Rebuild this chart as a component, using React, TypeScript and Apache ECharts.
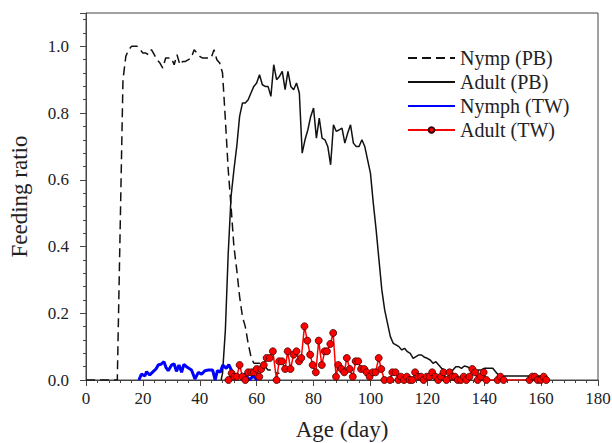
import React, { useEffect, useRef } from "react";
import * as echarts from "echarts";

// Nymp (PB) — dashed black
const nympPBDays = [0, 5, 10, 11, 12, 13, 14, 15, 16, 17, 18, 19, 20, 21, 22, 23, 24, 25, 26, 27, 28, 29, 30, 31, 32, 33, 34, 35, 36, 37, 38, 39, 40, 41, 42, 43, 44, 45, 46, 47, 48, 49, 50, 51, 52, 53, 54, 55, 56, 57, 58, 59, 60, 61, 62, 63, 64, 65, 66, 67, 68];
const nympPBValues = [0, 0, 0, 0, 0.45, 0.9, 0.97, 0.99, 1.0, 1.0, 1.0, 0.99, 0.98, 0.98, 0.975, 0.99, 0.975, 0.96, 0.95, 0.935, 0.965, 0.965, 0.965, 0.945, 0.975, 0.945, 0.955, 0.955, 0.96, 0.965, 0.99, 0.98, 0.97, 0.965, 0.965, 0.965, 0.965, 0.99, 0.96, 0.95, 0.92, 0.78, 0.63, 0.52, 0.4, 0.33, 0.25, 0.19, 0.16, 0.11, 0.07, 0.05, 0.05, 0.05, 0.04, 0.04, 0.03, 0.03, 0.03, 0.02, 0.02];

// Adult (PB) — solid black
const adultPBDays = [47.5, 48, 49, 50, 51, 52, 53, 54, 55, 56, 57, 58, 59, 60, 61, 62, 63, 64, 65, 66, 67, 68, 69, 70, 71, 72, 73, 74, 75, 76, 77, 78, 79, 80, 81, 82, 83, 84, 85, 86, 87, 88, 89, 90, 91, 92, 93, 94, 95, 96, 97, 98, 99, 100, 101, 102, 103, 104, 105, 106, 107, 108, 109, 110, 111, 112, 113, 114, 115, 116, 117, 118, 119, 120, 121, 122, 123, 124, 125, 126, 127, 128, 129, 130, 131, 132, 133, 134, 135, 136, 137, 138, 139, 140, 141, 142, 143, 144, 145, 146, 150, 155, 160, 162];
const adultPBValues = [0, 0.02, 0.15, 0.38, 0.55, 0.63, 0.7, 0.79, 0.83, 0.83, 0.84, 0.86, 0.88, 0.89, 0.915, 0.885, 0.88, 0.88, 0.85, 0.945, 0.9, 0.91, 0.925, 0.87, 0.925, 0.88, 0.87, 0.89, 0.86, 0.68, 0.72, 0.75, 0.79, 0.815, 0.725, 0.785, 0.725, 0.72, 0.7, 0.645, 0.765, 0.745, 0.75, 0.755, 0.71, 0.74, 0.765, 0.71, 0.7, 0.7, 0.72, 0.7, 0.66, 0.62, 0.53, 0.45, 0.36, 0.27, 0.21, 0.17, 0.13, 0.11, 0.105, 0.1, 0.09, 0.095, 0.085, 0.08, 0.065, 0.07, 0.075, 0.075, 0.068, 0.065, 0.06, 0.05, 0.055, 0.045, 0.035, 0.03, 0.025, 0.025, 0.03, 0.04, 0.04, 0.035, 0.042, 0.04, 0.035, 0.03, 0.025, 0.03, 0.03, 0.035, 0.035, 0.035, 0.035, 0.025, 0.015, 0.012, 0.012, 0.012, 0.012, 0.012];

// Nymph (TW) — blue
const nymphTWDays = [18.6, 19.5, 20.7, 21.3, 22.4, 23.6, 24.6, 25.4, 26.5, 27.4, 28.1, 28.9, 30.1, 31, 31.8, 32.7, 33.6, 34.4, 35.6, 37.1, 38.3, 39.5, 40.6, 41.8, 43, 44.5, 45.4, 46.2, 47.2, 48.1, 49.3, 50.2, 51.2, 52.6, 54.7, 56, 57.4, 58.8, 60.2];
const nymphTWValues = [0, 0.018, 0.012, 0.025, 0.015, 0.025, 0.033, 0.045, 0.048, 0.055, 0.038, 0.028, 0.045, 0.048, 0.026, 0.045, 0.023, 0.047, 0.038, 0.03, 0.003, 0.023, 0.017, 0.028, 0.03, 0.03, 0, 0.028, 0.023, 0.045, 0.035, 0.046, 0.028, 0.012, 0.01, 0.018, 0, 0.012, 0];

// Adult (TW) — red with markers
const adultTWDays = [50.1, 51.2, 52.2, 53, 54, 55, 56, 57, 58.1, 59, 60, 60.9, 61.6, 62.5, 63.5, 64.6, 65.7, 67, 67.9, 68.9, 70, 70.9, 71.9, 73, 74, 74.9, 75.7, 76.8, 77.8, 78.8, 79.7, 80.8, 81.8, 82.9, 83.9, 84.7, 85.9, 86.9, 87.9, 88.7, 89.8, 90.8, 91.7, 92.7, 93.8, 94.8, 95.7, 96.7, 97.8, 98.7, 99.7, 100.8, 101.8, 102.9, 103.8, 104.9, 106.9, 107.7, 108.8, 109.8, 110.7, 111.8, 112.8, 113.8, 114.7, 115.7, 116.8, 117.8, 118.7, 119.8, 120.8, 121.7, 122.8, 123.8, 124.8, 125.7, 126.7, 127.8, 128.8, 129.7, 130.7, 131.8, 132.8, 133.7, 134.8, 135.8, 136.8, 137.7, 138.8, 139.8, 140.8, 144.7, 145.7, 146.8, 155.9, 156.9, 157.8, 158.8, 159.9, 160.9, 161.8];
const adultTWValues = [0, 0.02, 0.01, 0.01, 0.045, 0.01, 0, 0.023, 0.023, 0.023, 0.033, 0.01, 0.033, 0.045, 0.066, 0.066, 0.086, 0, 0.056, 0.056, 0.033, 0.086, 0.033, 0.076, 0.086, 0.056, 0.066, 0.161, 0.118, 0.076, 0.045, 0.023, 0.118, 0.045, 0.086, 0.086, 0.108, 0.141, 0.01, 0.045, 0.033, 0.023, 0.066, 0.033, 0.01, 0.056, 0.056, 0.033, 0.033, 0.023, 0.01, 0.023, 0.023, 0.066, 0.033, 0, 0, 0.023, 0.023, 0, 0.01, 0, 0.01, 0, 0, 0.023, 0.01, 0.01, 0, 0.01, 0.01, 0.023, 0.01, 0, 0.01, 0.023, 0, 0.023, 0.01, 0.01, 0, 0, 0.01, 0, 0.01, 0.033, 0.023, 0, 0.01, 0.023, 0, 0, 0.01, 0, 0, 0.01, 0.01, 0, 0, 0.01, 0];

const xTicks = [0, 20, 40, 60, 80, 100, 120, 140, 160, 180];
const yTicks = [0.0, 0.2, 0.4, 0.6, 0.8, 1.0];

const zip = (xs: number[], ys: number[]) => xs.map((x, i) => [x, ys[i]]);

const FONT = "'Liberation Serif', 'Times New Roman', serif";
const AXIS_COLOR = "#444";
const TEXT_COLOR = "#222";

export default function App() {
  const ref = useRef<HTMLDivElement>(null);
  useEffect(() => {
    if (!ref.current) return;
    const chart = echarts.init(ref.current, undefined, { renderer: "svg" });
    const hidden = { opacity: 0 };
    chart.setOption({
      animation: false,
      backgroundColor: "#fff",
      grid: {
        left: 86,
        right: 14,
        top: 13,
        bottom: 63,
        show: true,
        borderColor: AXIS_COLOR,
        borderWidth: 1,
        backgroundColor: "transparent",
        outerBoundsMode: "none",
        containLabel: false,
      },
      legend: {
        orient: "vertical",
        left: 402,
        top: 43,
        itemWidth: 47,
        itemHeight: 7,
        itemGap: 4,
        textStyle: { fontFamily: FONT, fontSize: 20, color: TEXT_COLOR },
        data: [
          { name: "Nymp (PB)", itemStyle: hidden },
          { name: "Adult (PB)", itemStyle: hidden },
          { name: "Nymph (TW)", itemStyle: hidden },
          { name: "Adult (TW)" },
        ],
      },
      xAxis: {
        type: "value",
        min: xTicks[0],
        max: xTicks[xTicks.length - 1],
        interval: 20,
        name: "Age (day)",
        nameLocation: "middle",
        nameGap: 38,
        nameTextStyle: { fontFamily: FONT, fontSize: 23, color: TEXT_COLOR },
        axisLine: { show: true, lineStyle: { color: AXIS_COLOR, width: 1 } },
        axisTick: { show: true, length: 6, lineStyle: { color: AXIS_COLOR } },
        minorTick: { show: true, splitNumber: 5, length: 3, lineStyle: { color: AXIS_COLOR } },
        axisLabel: { fontFamily: FONT, fontSize: 17, color: TEXT_COLOR, margin: 10 },
        splitLine: { show: false },
      },
      yAxis: {
        type: "value",
        min: 0,
        max: 1.1,
        interval: 0.2,
        name: "Feeding ratio",
        nameLocation: "middle",
        nameGap: 55,
        nameTextStyle: { fontFamily: FONT, fontSize: 23, color: TEXT_COLOR },
        axisLine: { show: true, lineStyle: { color: AXIS_COLOR, width: 1 } },
        axisTick: { show: true, length: 6, lineStyle: { color: AXIS_COLOR } },
        minorTick: { show: true, splitNumber: 5, length: 3, lineStyle: { color: AXIS_COLOR } },
        axisLabel: {
          fontFamily: FONT,
          fontSize: 17,
          color: TEXT_COLOR,
          margin: 17,
          showMaxLabel: false,
          formatter: (v: number) => (yTicks.some((t) => Math.abs(t - v) < 1e-6) ? v.toFixed(1) : ""),
        },
        splitLine: { show: false },
      },
      series: [
        {
          name: "Nymp (PB)",
          type: "line",
          data: zip(nympPBDays, nympPBValues),
          symbol: "none",
          lineStyle: { color: "#111", width: 1.5, type: [9, 5] },
          itemStyle: { color: "#111" },
        },
        {
          name: "Adult (PB)",
          type: "line",
          data: zip(adultPBDays, adultPBValues),
          symbol: "none",
          lineStyle: { color: "#111", width: 1.5 },
          itemStyle: { color: "#111" },
        },
        {
          name: "Nymph (TW)",
          type: "line",
          data: zip(nymphTWDays, nymphTWValues),
          symbol: "none",
          lineStyle: { color: "#0000ff", width: 3 },
          itemStyle: { color: "#0000ff" },
        },
        {
          name: "Adult (TW)",
          type: "line",
          data: zip(adultTWDays, adultTWValues),
          symbol: "circle",
          symbolSize: 7,
          showAllSymbol: true,
          lineStyle: { color: "#ff0000", width: 1.5 },
          itemStyle: { color: "#ff0000", borderColor: "#400", borderWidth: 0.8 },
        },
      ],
    });
    return () => chart.dispose();
  }, []);
  return (
    <div
      ref={ref}
      style={{ position: "fixed", left: 0, top: 0, width: 612, height: 443, background: "#fff" }}
    />
  );
}
